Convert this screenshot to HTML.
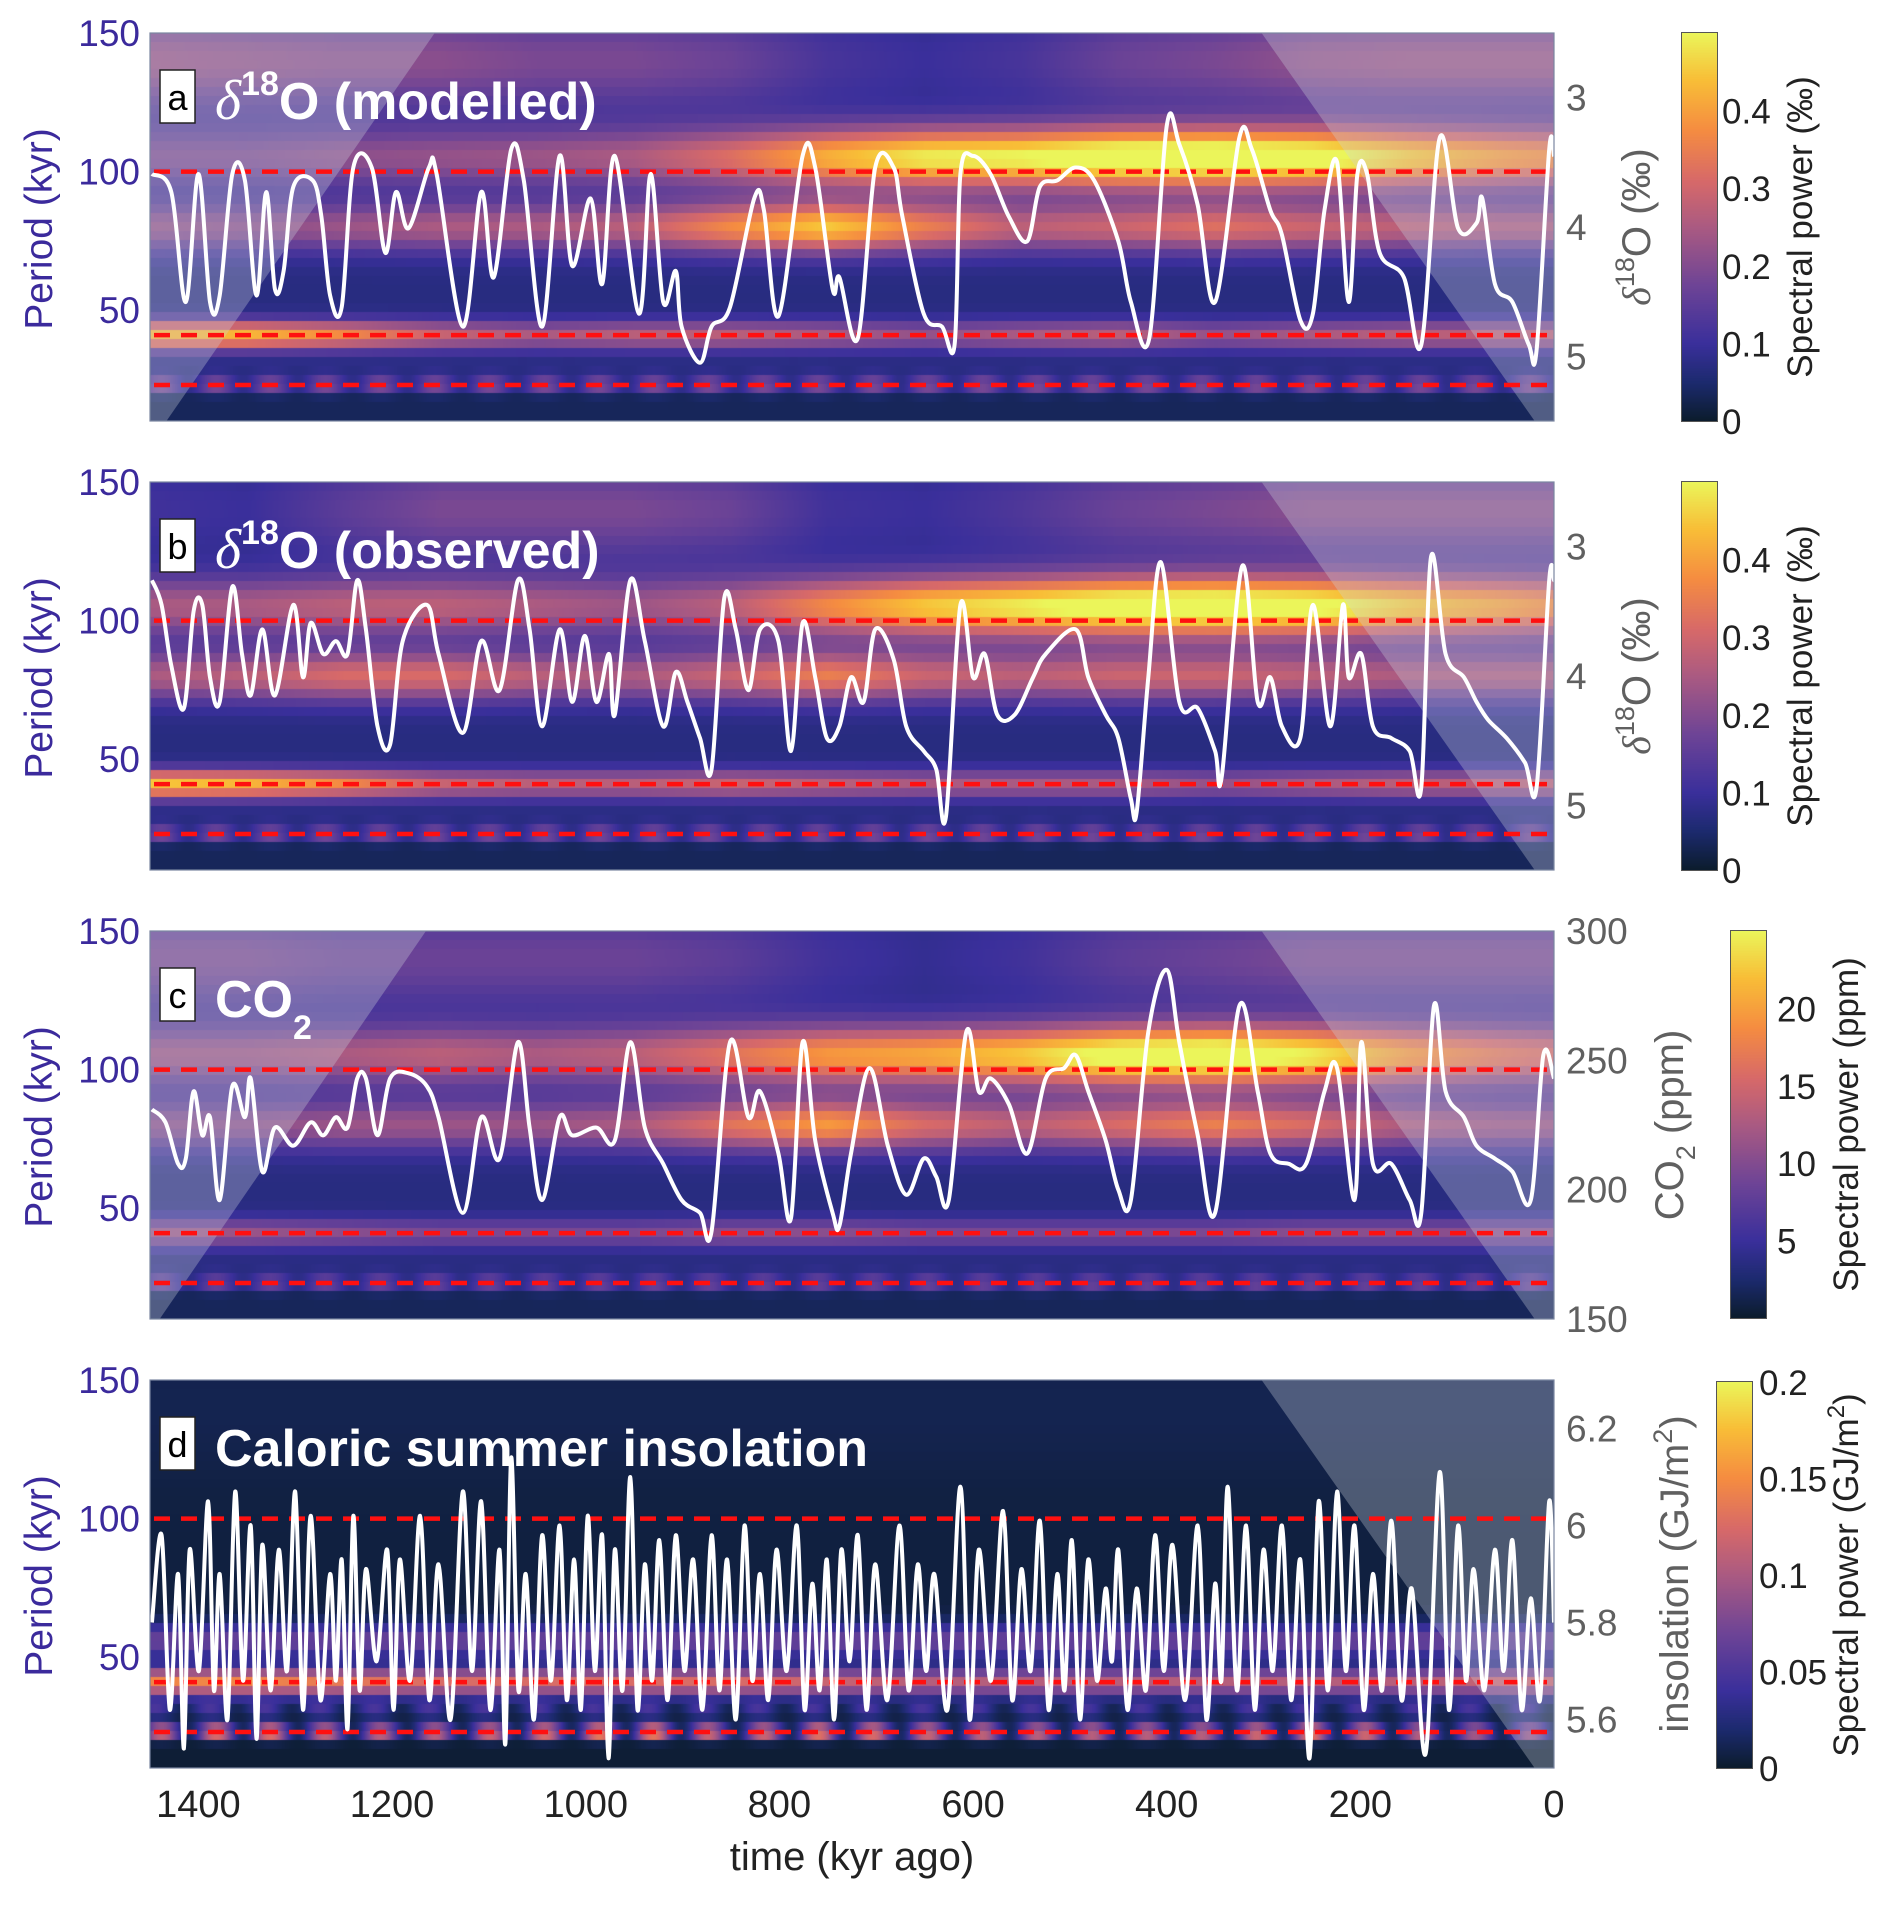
<!DOCTYPE html>
<html><head><meta charset="utf-8">
<style>
html,body{margin:0;padding:0;background:#fff;}
#wrap{position:relative;width:1892px;height:1905px;overflow:hidden;font-family:"Liberation Sans",sans-serif;}
canvas{position:absolute;}
svg{position:absolute;left:0;top:0;}
</style></head>
<body>
<div id="wrap">
<canvas id="hm0"></canvas>
<canvas id="hm1"></canvas>
<canvas id="hm2"></canvas>
<canvas id="hm3"></canvas>
<canvas id="cb0"></canvas>
<canvas id="cb1"></canvas>
<canvas id="cb2"></canvas>
<canvas id="cb3"></canvas>
<svg id="ov" width="1892" height="1905" xmlns="http://www.w3.org/2000/svg"></svg>
</div>
<script>
// ---------- data ----------
const nodeTimes = [1450,1350,1250,1150,1050,950,850,750,650,550,450,350,250,150,50,0];
// panel a band powers (‰)
const a_p140 = [0.16,0.15,0.14,0.14,0.12,0.12,0.10,0.05,0.03,0.05,0.10,0.12,0.15,0.16,0.16,0.16];
const a_p105 = [0.12,0.12,0.14,0.15,0.16,0.18,0.25,0.35,0.42,0.43,0.48,0.49,0.46,0.38,0.32,0.30];
const a_p80  = [0.15,0.14,0.16,0.18,0.18,0.20,0.30,0.38,0.28,0.20,0.22,0.25,0.22,0.20,0.18,0.18];
const a_p41  = [0.36,0.36,0.30,0.22,0.18,0.20,0.20,0.18,0.15,0.18,0.20,0.15,0.18,0.20,0.20,0.20];
const a_p23  = [0.13,0.13,0.13,0.13,0.13,0.13,0.13,0.13,0.13,0.13,0.13,0.13,0.13,0.13,0.13,0.13];
// panel b
const b_p140 = [0.04,0.03,0.08,0.12,0.12,0.12,0.10,0.04,0.03,0.06,0.10,0.12,0.14,0.14,0.14,0.14];
const b_p105 = [0.18,0.18,0.20,0.20,0.18,0.16,0.20,0.30,0.38,0.42,0.47,0.48,0.45,0.38,0.33,0.30];
const b_p80  = [0.18,0.20,0.24,0.24,0.20,0.18,0.22,0.28,0.22,0.20,0.22,0.22,0.20,0.18,0.18,0.18];
const b_p41  = [0.38,0.36,0.30,0.22,0.20,0.20,0.22,0.20,0.18,0.18,0.18,0.15,0.18,0.20,0.20,0.20];
const b_p23  = [0.12,0.12,0.12,0.12,0.12,0.12,0.12,0.12,0.12,0.12,0.12,0.12,0.12,0.12,0.12,0.12];
// panel c (ppm)
const c_p140 = [6,6,5,5,5,5,4,2,1,2,4,5,6,6,6,6];
const c_p105 = [8,8,9,10,9,10,13,16,17,19,23,24,21,16,13,12];
const c_p80  = [7,7,8,8,8,9,13,16,12,10,12,14,12,9,8,8];
const c_p41  = [8,8,7,6,6,6,7,7,6,6,6,6,7,7,7,7];
const c_p23  = [5,5,5,5,5,5,5,5,5,5,5,5,5,5,5,5];
// panel d (GJ/m2)
const d_p140 = [0.005,0.005,0.005,0.005,0.005,0.005,0.005,0.005,0.005,0.005,0.005,0.005,0.005,0.005,0.005,0.005];
const d_p55  = [0.06,0.06,0.06,0.06,0.06,0.06,0.06,0.06,0.06,0.06,0.06,0.06,0.06,0.06,0.06,0.06];
const d_p41  = [0.14,0.14,0.13,0.12,0.12,0.12,0.12,0.11,0.10,0.10,0.10,0.10,0.10,0.10,0.11,0.11];
const d_p30  = [0.04,0.04,0.04,0.04,0.04,0.04,0.04,0.04,0.04,0.04,0.04,0.04,0.04,0.04,0.04,0.04];
const d_p23  = [0.12,0.15,0.12,0.12,0.14,0.16,0.12,0.15,0.13,0.12,0.12,0.12,0.15,0.12,0.10,0.10];

// white curves
const aTimes = [1448,1428,1413,1400,1388,1378,1365,1352,1340,1330,1321,1312,1302,1282,1273,1264,1252,1240,1221,1207,1196,1183,1162,1154,1127,1108,1095,1077,1064,1045,1027,1014,995,983,970,945,933,920,907,901,882,870,851,826,816,801,776,763,745,738,719,701,682,673,651,632,619,613,600,582,563,544,531,513,494,475,450,437,418,400,387,368,350,325,312,293,281,262,249,237,224,212,203,193,180,155,137,118,99,80,74,61,43,26,18,5,0];
const aVals  = [3.59,3.73,4.58,3.59,4.58,4.53,3.59,3.64,4.53,3.73,4.48,4.34,3.69,3.64,3.92,4.53,4.62,3.54,3.54,4.20,3.73,4.01,3.54,3.59,4.77,3.73,4.39,3.40,3.64,4.77,3.45,4.30,3.78,4.44,3.45,4.67,3.59,4.58,4.34,4.77,5.05,4.77,4.62,3.78,3.87,4.69,3.45,3.54,4.48,4.39,4.86,3.54,3.54,3.92,4.67,4.77,4.91,3.59,3.45,3.59,3.92,4.11,3.69,3.64,3.54,3.64,4.11,4.58,4.86,3.22,3.36,3.83,4.58,3.31,3.40,3.87,4.06,4.72,4.67,3.87,3.50,4.58,3.59,3.59,4.20,4.39,4.91,3.31,4.01,3.97,3.78,4.44,4.58,4.91,4.95,3.40,3.45];
const bTimes = [1448,1438,1428,1415,1405,1396,1388,1378,1365,1355,1346,1334,1321,1302,1292,1284,1271,1258,1246,1236,1227,1215,1202,1189,1164,1152,1127,1108,1089,1070,1058,1045,1027,1014,1001,989,976,970,954,939,920,907,895,882,870,857,845,832,820,801,788,776,763,751,738,726,713,701,682,669,651,638,628,613,600,588,575,557,538,525,494,481,463,450,437,431,419,406,387,368,350,343,322,306,293,281,262,249,231,218,212,199,187,168,149,137,127,112,93,80,68,49,30,18,5,0];
const bVals  = [3.26,3.45,3.92,4.25,3.50,3.45,4.01,4.20,3.31,3.83,4.15,3.64,4.15,3.45,4.01,3.59,3.83,3.73,3.83,3.26,3.64,4.39,4.53,3.73,3.45,3.83,4.44,3.73,4.11,3.26,3.64,4.39,3.64,4.20,3.69,4.20,3.83,4.30,3.26,3.73,4.39,3.97,4.20,4.48,4.72,3.40,3.64,4.11,3.64,3.73,4.58,3.59,4.01,4.48,4.39,4.01,4.20,3.64,3.87,4.39,4.58,4.72,5.09,3.45,4.01,3.83,4.30,4.30,4.01,3.83,3.64,4.01,4.30,4.48,4.95,5.05,4.01,3.12,4.20,4.25,4.58,4.77,3.15,4.20,4.01,4.39,4.48,3.45,4.39,3.45,4.01,3.83,4.39,4.48,4.58,4.86,3.08,3.83,4.01,4.20,4.34,4.48,4.67,4.86,3.26,3.26];
const cTimes = [1448,1434,1421,1413,1405,1396,1388,1378,1365,1352,1346,1334,1321,1302,1284,1271,1258,1246,1236,1227,1215,1202,1183,1164,1152,1127,1108,1089,1070,1058,1045,1027,1014,989,970,954,939,920,901,882,870,851,832,820,801,788,776,763,745,738,726,707,688,669,651,638,625,607,594,582,563,544,525,506,494,481,463,450,437,419,400,387,368,350,325,306,293,274,256,237,224,206,199,187,168,149,137,124,112,93,80,61,43,24,11,0];
const cVals  = [231,226,210,212,238,221,228,196,240,228,243,207,224,217,226,221,228,224,243,243,221,243,245,240,228,191,228,212,257,224,196,228,221,224,219,257,224,210,196,191,184,257,228,238,214,189,257,219,191,186,214,247,217,198,212,205,196,261,238,243,233,214,243,247,252,238,219,200,196,261,285,257,221,191,271,238,214,210,210,238,247,196,257,210,210,196,191,271,238,228,217,212,207,196,252,243];
const dPeakTimes = [1438,1421,1409,1390,1378,1362,1346,1334,1317,1300,1284,1264,1252,1240,1227,1205,1192,1171,1152,1127,1108,1089,1077,1062,1045,1027,1012,998,983,970,954,939,924,907,889,870,854,836,820,803,782,766,751,736,719,701,676,657,640,613,594,569,550,531,513,498,481,463,450,431,412,394,368,350,337,318,300,281,262,243,224,206,187,168,147,118,99,83,61,43,24,5];
const dPeakVals  = [5.98,5.90,5.95,6.05,5.90,6.07,6.00,5.96,5.95,6.07,6.02,5.90,5.93,6.02,5.91,5.95,5.93,6.02,5.92,6.07,6.05,5.95,6.14,5.90,5.98,6.00,5.93,6.02,5.98,5.95,6.10,5.92,5.97,5.98,5.93,5.98,5.93,6.00,5.90,5.95,6.00,5.88,5.93,5.95,5.98,5.92,6.00,5.92,5.90,6.08,5.95,6.03,5.91,6.01,5.90,5.97,5.93,5.87,5.95,5.87,5.98,5.96,6.00,5.88,6.08,6.00,5.95,6.00,5.93,6.05,6.07,6.00,5.90,6.01,5.87,6.11,6.00,5.91,5.95,5.97,5.85,6.05];
const dTroughVals = [5.80,5.62,5.54,5.70,5.66,5.60,5.68,5.56,5.66,5.70,5.62,5.64,5.68,5.58,5.66,5.72,5.62,5.68,5.64,5.60,5.70,5.62,5.55,5.66,5.60,5.68,5.64,5.62,5.70,5.52,5.66,5.62,5.68,5.64,5.70,5.62,5.66,5.60,5.68,5.64,5.70,5.62,5.66,5.60,5.72,5.62,5.64,5.66,5.70,5.62,5.60,5.68,5.64,5.70,5.62,5.66,5.60,5.68,5.72,5.62,5.66,5.70,5.64,5.60,5.68,5.66,5.62,5.70,5.64,5.52,5.66,5.70,5.62,5.66,5.64,5.53,5.62,5.68,5.66,5.70,5.62,5.64,5.80];

const xTicks = [1400,1200,1000,800,600,400,200,0];
const pTicks = [150,100,50];
const refPeriods = [100,41,23];

// ---------- geometry ----------
const L=150, R=1554, W=R-L, H=388;
const tops=[33,482,931,1380];
const TMAX=1450;
const xs = t => L + (TMAX-t)/TMAX*W;
const PMIN=10, PMAX=150;
const yp = (p,top) => top + (PMAX-p)/(PMAX-PMIN)*H;

const cmapStops=[[0,[11,28,44]],[0.1,[28,42,110]],[0.2,[58,47,155]],[0.35,[110,68,150]],[0.5,[170,90,130]],[0.62,[215,105,105]],[0.75,[245,140,65]],[0.88,[248,190,55]],[1,[235,245,90]]];
function cmap(v){v=Math.max(0,Math.min(1,v));for(let i=1;i<cmapStops.length;i++){if(v<=cmapStops[i][0]){const a=cmapStops[i-1],b=cmapStops[i];const f=(v-a[0])/(b[0]-a[0]);return [0,1,2].map(k=>Math.round(a[1][k]+(b[1][k]-a[1][k])*f));}}return cmapStops[cmapStops.length-1][1];}
function interpNode(arr,t){for(let i=1;i<nodeTimes.length;i++){if(t>=nodeTimes[i]){const f=(nodeTimes[i-1]-t)/(nodeTimes[i-1]-nodeTimes[i]);return arr[i-1]+(arr[i]-arr[i-1])*f;}}return arr[arr.length-1];}

const panels=[
 {bands:[[a_p140,140,18],[a_p105,105,11],[a_p80,80,9],[a_p41,41,5],[a_p23,23,3.5]],max:0.5,base:0.07},
 {bands:[[b_p140,140,18],[b_p105,105,11],[b_p80,80,9],[b_p41,41,5],[b_p23,23,3.5]],max:0.5,base:0.07},
 {bands:[[c_p140,140,18],[c_p105,105,11],[c_p80,80,9],[c_p41,41,5],[c_p23,23,3.5]],max:25,base:3.5},
 {bands:[[d_p140,140,25],[d_p55,56,6],[d_p41,41,5],[d_p30,31,3],[d_p23,23,3]],max:0.2,base:0.006}
];
panels.forEach((pn,k)=>{
  const cv=document.getElementById('hm'+k);
  cv.width=W;cv.height=H;cv.style.left=L+'px';cv.style.top=tops[k]+'px';
  const ctx=cv.getContext('2d');const img=ctx.createImageData(W,H);
  const colVals=[];
  for(let x=0;x<W;x++){const t=TMAX-(x+0.5)/W*TMAX;colVals.push(pn.bands.map(b=>interpNode(b[0],t)));}
  for(let y=0;y<H;y++){
    const yq=Math.floor(y/9)*9+4.5;
    const p=PMAX-yq/H*(PMAX-PMIN);
    for(let x=0;x<W;x++){
      const t=TMAX-(x+0.5)/W*TMAX;
      let v=pn.base;
      pn.bands.forEach((b,i)=>{const g=Math.exp(-Math.pow((p-b[1])/b[2],2));let a=colVals[x][i];
        if(b[1]<35) a*=0.55+0.45*Math.cos(t/9+b[1]*0.7);
        v+=a*g;});
      if(p<20) v*=0.5;
      const c=cmap(v/pn.max);const o=(y*W+x)*4;img.data[o]=c[0];img.data[o+1]=c[1];img.data[o+2]=c[2];img.data[o+3]=255;
    }
  }
  ctx.putImageData(img,0,0);
});
// colorbars
const cbX=[1682,1682,1731,1717], cbTop=[33,482,931,1382], cbBot=[421,870,1318,1768];
for(let k=0;k<4;k++){const cv=document.getElementById('cb'+k);const h=cbBot[k]-cbTop[k];cv.width=35;cv.height=h;cv.style.left=cbX[k]+'px';cv.style.top=cbTop[k]+'px';cv.style.outline='1.5px solid #555';
 const ctx=cv.getContext('2d');for(let y=0;y<h;y++){const c=cmap(1-y/h);ctx.fillStyle=`rgb(${c})`;ctx.fillRect(0,y,35,1);}}

// ---------- SVG overlay ----------
const NS='http://www.w3.org/2000/svg';
const ov=document.getElementById('ov');
function el(tag,attrs,parent,text){const e=document.createElementNS(NS,tag);for(const a in attrs)e.setAttribute(a,attrs[a]);if(text!==undefined)e.textContent=text;(parent||ov).appendChild(e);return e;}
function smoothPath(pts){let d=`M${pts[0][0].toFixed(1)},${pts[0][1].toFixed(1)}`;for(let i=0;i<pts.length-1;i++){const p0=pts[Math.max(0,i-1)],p1=pts[i],p2=pts[i+1],p3=pts[Math.min(pts.length-1,i+2)];const c1=[p1[0]+(p2[0]-p0[0])/6,p1[1]+(p2[1]-p0[1])/6],c2=[p2[0]-(p3[0]-p1[0])/6,p2[1]-(p3[1]-p1[1])/6];d+=`C${c1[0].toFixed(1)},${c1[1].toFixed(1)} ${c2[0].toFixed(1)},${c2[1].toFixed(1)} ${p2[0].toFixed(1)},${p2[1].toFixed(1)}`;}return d;}

const coneColor='rgba(205,212,222,0.32)';
const panelNames=['a','b','c','d'];
const leftCone=[[1156,1433],null,[1165,1440],null];
const rightConeTimes=[302,20];

const rightAxes=[
 {min:2.5,max:5.5,rev:true,ticks:[3,4,5],lab:'d18O'},
 {min:2.5,max:5.5,rev:true,ticks:[3,4,5],lab:'d18O'},
 {min:150,max:300,rev:false,ticks:[150,200,250,300],lab:'co2'},
 {min:5.5,max:6.3,rev:false,ticks:[5.6,5.8,6,6.2],lab:'ins'}
];
function yr(k,v){const a=rightAxes[k];const f=(v-a.min)/(a.max-a.min);return a.rev? tops[k]+f*H : tops[k]+H-f*H;}

const series=[];
series[0]=aTimes.map((t,i)=>[t,aVals[i]]);
series[1]=bTimes.map((t,i)=>[t,bVals[i]]);
series[2]=cTimes.map((t,i)=>[t,cVals[i]]);
(function(){const s=[[1448,dTroughVals[0]]];const n=Math.min(dPeakTimes.length,dPeakVals.length);
 for(let i=0;i<n;i++){s.push([dPeakTimes[i],dPeakVals[i]]);const nt=i<n-1?(dPeakTimes[i]+dPeakTimes[i+1])/2:0;const tv=dTroughVals[Math.min(i+1,dTroughVals.length-1)];s.push([nt,tv]);}
 series[3]=s;})();

const titles=['modelled','observed','CO2','Caloric summer insolation'];
const cbTicks=[[0,0.1,0.2,0.3,0.4],[0,0.1,0.2,0.3,0.4],[5,10,15,20],[0,0.05,0.1,0.15,0.2]];
const cbMax=[0.5,0.5,25,0.2];
const cbTickX=[1722,1722,1777,1759];
const cbLabX=[1812,1812,1858,1858];

for(let k=0;k<4;k++){
  const top=tops[k];
  const g=el('g',{});
  if(leftCone[k]){const c=el('polygon',{points:`${L},${top} ${xs(leftCone[k][0])},${top} ${xs(leftCone[k][1])},${top+H} ${L},${top+H}`,fill:coneColor},g);
    }
  const rc=el('polygon',{points:`${xs(rightConeTimes[0])},${top} ${R},${top} ${R},${top+H} ${xs(rightConeTimes[1])},${top+H}`,fill:coneColor},g);
  
  refPeriods.forEach(p=>{const ln=el('line',{x1:L+4,x2:R,y1:yp(p,top),y2:yp(p,top),stroke:'#ff1010','stroke-width':4.5,'stroke-dasharray':'16 11'},g);
    });
  const pts=series[k].map(d=>[xs(d[0]),yr(k,d[1])]);
  const path=el('path',{d:smoothPath(pts),fill:'none',stroke:'#fff','stroke-width':4,'stroke-linejoin':'round'},g);
  
  const fr=el('rect',{x:L,y:top,width:W,height:H,fill:'none',stroke:'#7a86a0','stroke-width':1.2},g);
  
  pTicks.forEach(p=>{const t=el('text',{x:140,y:yp(p,top)+13,'text-anchor':'end','font-size':37,fill:'#3b2a9c'},g,String(p));
    });
  const yl=el('text',{x:0,y:0,transform:`translate(52,${top+H/2+2}) rotate(-90)`,'text-anchor':'middle','font-size':39,fill:'#3b2a9c'},g,'Period (kyr)');
  
  rightAxes[k].ticks.forEach(v=>{const t=el('text',{x:1566,y:yr(k,v)+13,'font-size':37,fill:'#606060'},g,String(v));
    });
  let rl;
  if(k<2){rl=el('text',{transform:`translate(1650,${top+H/2}) rotate(-90)`,'text-anchor':'middle','font-size':40,fill:'#606060'},g);
    el('tspan',{'font-family':'Liberation Serif, serif','font-style':'italic'},rl,'δ');el('tspan',{'font-size':27,dy:-16},rl,'18');el('tspan',{dy:16},rl,'O (‰)');}
  else if(k==2){rl=el('text',{transform:`translate(1683,${top+H/2}) rotate(-90)`,'text-anchor':'middle','font-size':40,fill:'#606060'},g);
    el('tspan',{},rl,'CO');el('tspan',{'font-size':27,dy:12},rl,'2');el('tspan',{dy:-12},rl,' (ppm)');}
  else {rl=el('text',{transform:`translate(1688,${top+H/2}) rotate(-90)`,'text-anchor':'middle','font-size':40,fill:'#606060'},g);
    el('tspan',{},rl,'insolation (GJ/m');el('tspan',{'font-size':27,dy:-16},rl,'2');el('tspan',{dy:16},rl,')');}
  
  cbTicks[k].forEach(v=>{const y=cbBot[k]-(v/cbMax[k])*(cbBot[k]-cbTop[k]);
    const t=el('text',{x:cbTickX[k],y:y+13,'font-size':35,fill:'#222'},g,String(v));
    });
  const cl=el('text',{transform:`translate(${cbLabX[k]},${(cbTop[k]+cbBot[k])/2}) rotate(-90)`,'text-anchor':'middle','font-size':35,fill:'#222'},g);
  if(k<2) cl.textContent='Spectral power (‰)';
  else if(k==2) cl.textContent='Spectral power (ppm)';
  else {el('tspan',{},cl,'Spectral power (GJ/m');el('tspan',{'font-size':24,dy:-14},cl,'2');el('tspan',{dy:14},cl,')');}
  
  const bx=el('rect',{x:160,y:top+37,width:35,height:53,fill:'#fff',stroke:'#222','stroke-width':1.5},g);
  
  const lt=el('text',{x:177.5,y:top+77,'text-anchor':'middle','font-size':36,fill:'#000'},g,panelNames[k]);
  
  const tt=el('text',{x:215,y:top+86,'font-size':52,'font-weight':'bold',fill:'#fff'},g);
  if(k<2){el('tspan',{'font-family':'Liberation Serif, serif','font-style':'italic','font-weight':'normal','font-size':56},tt,'δ');
    el('tspan',{'font-size':34,dy:-24},tt,'18');el('tspan',{dy:24},tt,'O ('+titles[k]+')');}
  else if(k==2){el('tspan',{},tt,'CO');el('tspan',{'font-size':34,dy:22},tt,'2');}
  else tt.textContent=titles[k];
  
}
xTicks.forEach(t=>{const tx=el('text',{x:xs(t),y:1817,'text-anchor':'middle','font-size':38,fill:'#222'},ov,String(t));
  });
const xt=el('text',{x:852,y:1870,'text-anchor':'middle','font-size':40,fill:'#222'},ov,'time (kyr ago)');

</script>
</body></html>
